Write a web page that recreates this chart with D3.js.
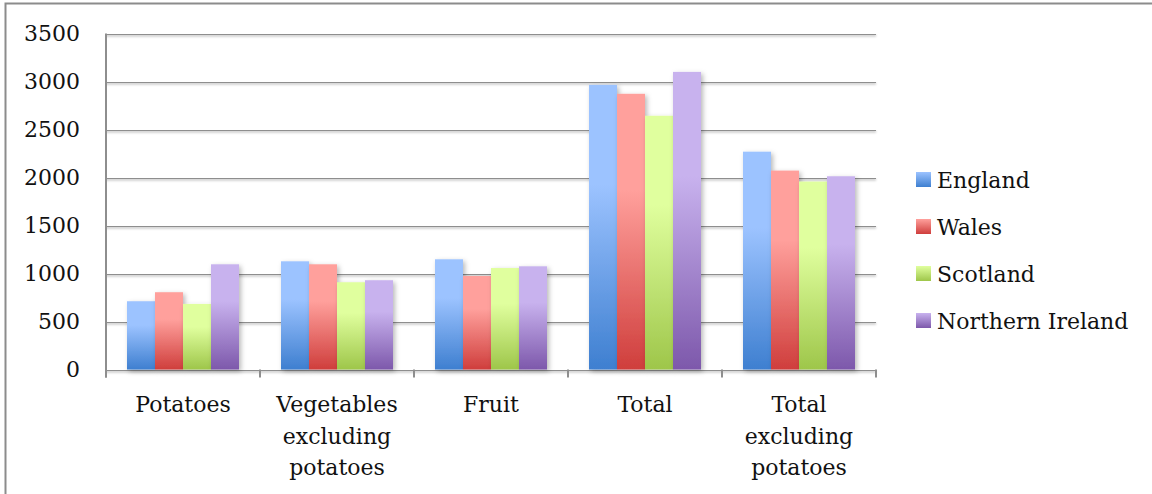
<!DOCTYPE html>
<html>
<head>
<meta charset="utf-8">
<script src="https://cdn.jsdelivr.net/npm/d3@7"></script>
<style>
  html, body { margin: 0; padding: 0; background: #fff; }
  svg { display: block; }
  text { font-family: "DejaVu Serif", "Liberation Serif", serif; fill: #111; }
</style>
</head>
<body>
<svg id="chart" width="1152" height="494"></svg>
<script>
// Consumption by food group and nation
const categories = [
  ["Potatoes"],
  ["Vegetables", "excluding", "potatoes"],
  ["Fruit"],
  ["Total"],
  ["Total", "excluding", "potatoes"]
];
const seriesNames = ["England", "Wales", "Scotland", "Northern Ireland"];
const england  = [711, 1127, 1148, 2965, 2269];
const wales    = [805, 1096, 974, 2872, 2072];
const scotland = [683, 909, 1057, 2643, 1958];
const nIreland = [1096, 930, 1075, 3100, 2013];
const seriesValues = [england, wales, scotland, nIreland];
const yTicks = [0, 500, 1000, 1500, 2000, 2500, 3000, 3500];

// colour pairs: light top, dark bottom
const palette = [
  ["#9cc3ff", "#3e7fd0"],
  ["#ffa09c", "#cf3e3c"],
  ["#e0ff9e", "#9ec64a"],
  ["#c8b2ee", "#7d58ab"]
];

const svg = d3.select("#chart");
const margin = { left: 106, right: 876, top: 33.5, bottom: 369.5 };

const x = d3.scaleBand()
  .domain(d3.range(categories.length))
  .range([margin.left, margin.right])
  .paddingInner(0).paddingOuter(0);

const xInner = d3.scaleBand()
  .domain(d3.range(seriesNames.length))
  .range([0, x.bandwidth()])
  .paddingOuter(0.75).paddingInner(0);

const y = d3.scaleLinear().domain([0, 3500]).range([margin.bottom, margin.top]);

const defs = svg.append("defs");
palette.forEach((c, i) => {
  const g = defs.append("linearGradient")
    .attr("id", "grad" + i).attr("x1", 0).attr("y1", 0).attr("x2", 0).attr("y2", 1);
  g.append("stop").attr("offset", "0%").attr("stop-color", c[0]);
  g.append("stop").attr("offset", "35%").attr("stop-color", c[0]);
  g.append("stop").attr("offset", "100%").attr("stop-color", c[1]);
  const lg = defs.append("linearGradient")
    .attr("id", "lgrad" + i).attr("x1", 0).attr("y1", 0).attr("x2", 0).attr("y2", 1);
  lg.append("stop").attr("offset", "0%").attr("stop-color", c[0]);
  lg.append("stop").attr("offset", "100%").attr("stop-color", c[1]);
});
const shadow = defs.append("filter").attr("id", "shadow")
  .attr("x", "-30%").attr("y", "-10%").attr("width", "160%").attr("height", "130%");
shadow.append("feDropShadow").attr("dx", 2).attr("dy", 2).attr("stdDeviation", 2.5)
  .attr("flood-color", "#000").attr("flood-opacity", 0.28);
const lineShadow = defs.append("filter").attr("id", "lineShadow")
  .attr("filterUnits", "userSpaceOnUse")
  .attr("x", 0).attr("y", 0).attr("width", 1152).attr("height", 494);
lineShadow.append("feDropShadow").attr("dx", 0).attr("dy", 1.5).attr("stdDeviation", 0.8)
  .attr("flood-color", "#000").attr("flood-opacity", 0.25);

// outer frame (top and left edges)
svg.append("path")
  .attr("d", "M5.5,494 V3.5 H1152")
  .attr("fill", "none").attr("stroke", "#8c8c8c").attr("stroke-width", 2);

// horizontal gridlines with left tick stubs
const yAxis = d3.axisLeft(y).tickValues(yTicks)
  .tickSize(0).tickPadding(26)
  .tickFormat(d3.format("d"));
const gy = svg.append("g").attr("transform", `translate(${margin.left},0)`).call(yAxis);
gy.select(".domain").remove();
gy.selectAll(".tick line")
  .attr("x1", -8).attr("x2", margin.right - margin.left)
  .attr("stroke", "#8e8e8e").attr("stroke-width", 2).attr("filter", "url(#lineShadow)");
gy.selectAll(".tick text")
  .attr("font-size", 22)
  .style("font-family", "'DejaVu Serif', serif").attr("fill", "#111");

// vertical axis line
svg.append("line")
  .attr("x1", margin.left).attr("x2", margin.left)
  .attr("y1", margin.top).attr("y2", margin.bottom + 8)
  .attr("stroke", "#8e8e8e").attr("stroke-width", 2);

// category boundary ticks on the baseline
const boundaries = d3.range(categories.length + 1).map(i =>
  i < categories.length ? x(i) : x(categories.length - 1) + x.bandwidth());
svg.selectAll("line.xtick").data(boundaries).join("line")
  .attr("class", "xtick")
  .attr("x1", d => d).attr("x2", d => d)
  .attr("y1", margin.bottom).attr("y2", margin.bottom + 8)
  .attr("stroke", "#8e8e8e").attr("stroke-width", 2);

// bars
const groups = svg.append("g").selectAll("g").data(categories).join("g")
  .attr("transform", (d, i) => `translate(${x(i)},0)`);
groups.selectAll("rect")
  .data((d, ci) => seriesValues.map((s, si) => ({ si, v: s[ci] })))
  .join("rect")
  .attr("x", d => xInner(d.si))
  .attr("width", xInner.bandwidth())
  .attr("y", d => y(d.v))
  .attr("height", d => y(0) - y(d.v))
  .attr("fill", d => `url(#grad${d.si})`)
  .attr("filter", "url(#shadow)");

// category labels
svg.append("g").selectAll("text").data(categories).join("text")
  .attr("x", (d, i) => x(i) + x.bandwidth() / 2)
  .attr("y", 412)
  .attr("text-anchor", "middle")
  .attr("font-size", 22)
  .selectAll("tspan").data(d => d).join("tspan")
  .attr("x", function () { return d3.select(this.parentNode).attr("x"); })
  .attr("dy", (d, i) => i === 0 ? 0 : 31.7)
  .text(d => d);

// legend
const legend = svg.append("g").selectAll("g").data(seriesNames).join("g")
  .attr("transform", (d, i) => `translate(916,${172 + i * 47})`);
legend.append("rect")
  .attr("width", 15).attr("height", 15)
  .attr("fill", (d, i) => `url(#lgrad${i})`);
legend.append("text")
  .attr("x", 21).attr("y", 16)
  .attr("font-size", 22)
  .text(d => d);
</script>
</body>
</html>
